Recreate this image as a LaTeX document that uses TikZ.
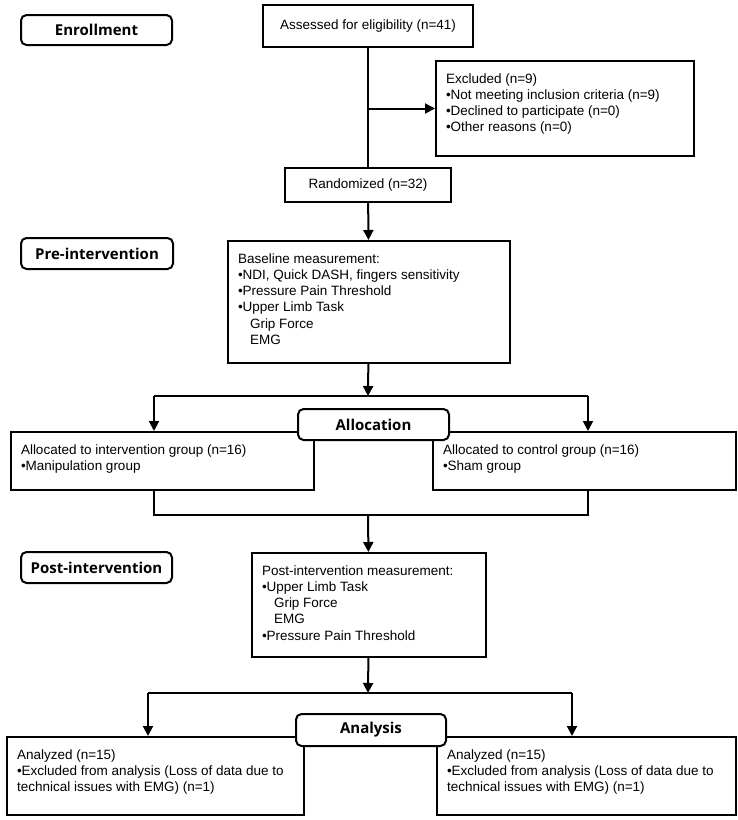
\documentclass[tikz,border=0pt]{standalone}
\usepackage{fontspec}
\newfontfamily\arialfont{Liberation Sans}
\newfontfamily\stagefont{Open Sans}
\usetikzlibrary{arrows.meta,positioning,calc}

% text block at the top left of a box
\newcommand{\boxtext}[3]{\parbox[c][#2][t]{#1}{\vspace*{12.5pt}#3}}
\newcommand{\ind}{\hspace*{12pt}}

\tikzset{
  stage/.style={draw, line width=2pt, rounded corners=5.5pt, fill=white, inner sep=0pt, font=\stagefont\bfseries\fontsize{15}{16}\selectfont},
  box/.style={draw, line width=2pt, fill=white, inner sep=0pt, font=\arialfont\fontsize{13.5}{16.2}\selectfont},
  tbox/.style={box, anchor=north west, inner xsep=10pt, inner ysep=0pt},
  link/.style={line width=2pt},
  arr/.style={link, -{Triangle[length=10pt,width=10pt]}},
}

\begin{document}
\begin{tikzpicture}[x=1pt,y=-1pt]
\useasboundingbox (0,0) rectangle (738,820);

% stages
\node[stage, minimum width=151pt, minimum height=30pt] (enrol) at (96.5,30) {Enrollment};
\node[stage, minimum width=152pt, minimum height=31pt] (pre) at (97,253.5) {Pre-intervention};
\node[stage, minimum width=151pt, minimum height=31pt] (poststage) at (96.5,567.5) {Post-intervention};

% boxes
\node[box, minimum width=210pt, minimum height=42pt] (assess) at (368,26) {Assessed for eligibility (n=41)};
\node[tbox] (excl) at (435,60) {\boxtext{238pt}{95pt}{Excluded (n=9)\\
  •Not meeting inclusion criteria (n=9)\\
  •Declined to participate (n=0)\\
  •Other reasons (n=0)}};
\node[box, minimum width=166pt, minimum height=34pt] (rand) at (368,185) {Randomized (n=32)};
\node[tbox] (base) at (227,240) {\boxtext{262pt}{122pt}{Baseline measurement:\\
  •NDI, Quick DASH, fingers sensitivity\\
  •Pressure Pain Threshold\\
  •Upper Limb Task\\
  \ind Grip Force\\
  \ind EMG}};
\node[tbox] (grpa) at (10,431) {\boxtext{283pt}{58pt}{Allocated to intervention group (n=16)\\
  •Manipulation group}};
\node[tbox] (grpb) at (432,431) {\boxtext{283pt}{58pt}{Allocated to control group (n=16)\\
  •Sham group}};
\node[tbox] (postbox) at (251,552) {\boxtext{214pt}{104pt}{Post-intervention measurement:\\
  •Upper Limb Task\\
  \ind Grip Force\\
  \ind EMG\\
  •Pressure Pain Threshold}};
\node[tbox] (anla) at (6,736) {\boxtext{277pt}{78pt}{Analyzed (n=15)\\
  •Excluded from analysis (Loss of data due to\\
  technical issues with EMG) (n=1)}};
\node[tbox] (anlb) at (436,736) {\boxtext{279pt}{78pt}{Analyzed (n=15)\\
  •Excluded from analysis (Loss of data due to\\
  technical issues with EMG) (n=1)}};

% enrollment
\draw[link] (assess.south) -- (assess.south |- rand.north);
\draw[arr] (assess.south |- excl.west) -- (excl.west);
\draw[arr] (rand) -- (base);

% allocation
\coordinate (split1) at (368,396);
\coordinate (sl1) at (154,396);
\coordinate (sr1) at (588,396);
\draw[arr] (base) -- (split1);
\draw[link] (sl1) -- (sr1);
\draw[arr] (sl1) -- (sl1 |- grpa.north);
\draw[arr] (sr1) -- (sr1 |- grpb.north);

\coordinate (join) at (368,515);
\draw[link] (sl1 |- grpa.south) -- (sl1 |- join) -- (sr1 |- join) -- (sr1 |- grpb.south);
\draw[arr] (join) -- (postbox);

% analysis
\coordinate (split2) at (368,693);
\coordinate (sl2) at (148,693);
\coordinate (sr2) at (572,693);
\draw[arr] (postbox) -- (split2);
\draw[link] (sl2) -- (sr2);
\draw[arr] (sl2) -- (sl2 |- anla.north);
\draw[arr] (sr2) -- (sr2 |- anlb.north);

\node[stage, minimum width=151pt, minimum height=31pt] (alloc) at (373.5,424.5) {Allocation};
\node[stage, minimum width=150pt, minimum height=32pt] (anal) at (371,730) {Analysis};

\end{tikzpicture}
\end{document}
